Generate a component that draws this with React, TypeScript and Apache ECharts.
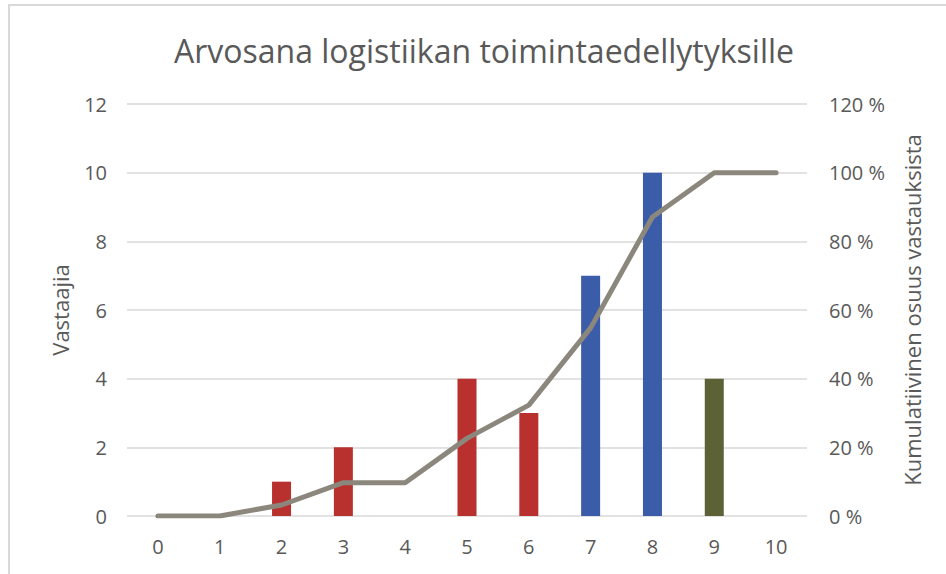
import React, { useEffect, useRef } from "react";
import * as echarts from "echarts";

const categories = ["0", "1", "2", "3", "4", "5", "6", "7", "8", "9", "10"];
const respondents = [0, 0, 1, 2, 0, 4, 3, 7, 10, 4, 0];
const cumulativePct = [0, 0, 3.2, 9.7, 9.7, 22.6, 32.3, 54.8, 87.1, 100, 100];
const titleText = "Arvosana logistiikan toimintaedellytyksille";
const leftAxisName = "Vastaajia";
const rightAxisName = "Kumulatiivinen osuus vastauksista";

const RED = "#b8312f";
const BLUE = "#3a5ca9";
const OLIVE = "#5c6236";
const barColor = (i: number) => (i >= 9 ? OLIVE : i >= 7 ? BLUE : RED);

const FONT = "'Open Sans', 'Noto Sans', sans-serif";
const TXT = "#595959";

export default function App() {
  const ref = useRef<HTMLDivElement>(null);
  useEffect(() => {
    if (!ref.current) return;
    const chart = echarts.init(ref.current, undefined, { renderer: "svg" });
    chart.setOption({
      animation: false,
      backgroundColor: "#ffffff",
      textStyle: { fontFamily: FONT },
      graphic: [
        { type: "line", shape: { x1: 9, y1: 4, x2: 9, y2: 574 }, style: { stroke: "#d9d9d9", lineWidth: 2 } },
        { type: "line", shape: { x1: 8, y1: 5, x2: 946, y2: 5 }, style: { stroke: "#d9d9d9", lineWidth: 2 } },
        {
          type: "text",
          x: 484,
          y: 50,
          style: {
            text: titleText,
            fontFamily: FONT,
            fontSize: 32,
            fill: TXT,
            textAlign: "center",
            textVerticalAlign: "middle",
          },
        },
      ],
      grid: { left: 127, right: 139, top: 104, bottom: 58 },
      xAxis: {
        type: "category",
        data: categories,
        boundaryGap: true,
        axisLine: { show: false },
        axisTick: { show: false },
        axisLabel: { color: TXT, fontSize: 20, margin: 20, fontFamily: FONT },
      },
      yAxis: [
        {
          type: "value",
          min: 0,
          max: 12,
          interval: 2,
          name: leftAxisName,
          nameLocation: "middle",
          nameRotate: 90,
          nameGap: 56,
          nameTextStyle: { color: TXT, fontSize: 22, fontFamily: FONT },
          axisLine: { show: false },
          axisTick: { show: false },
          axisLabel: { color: TXT, fontSize: 20, margin: 20, fontFamily: FONT },
          splitLine: { lineStyle: { color: "#d9d9d9", width: 1.5 } },
        },
        {
          type: "value",
          min: 0,
          max: 120,
          interval: 20,
          position: "right",
          name: rightAxisName,
          nameLocation: "middle",
          nameRotate: 90,
          nameGap: 94,
          nameTextStyle: { color: TXT, fontSize: 22, fontFamily: FONT },
          axisLine: { show: false },
          axisTick: { show: false },
          axisLabel: { color: TXT, fontSize: 20, margin: 22, fontFamily: FONT, formatter: "{value} %" },
          splitLine: { show: false },
        },
      ],
      series: [
        {
          type: "bar",
          yAxisIndex: 0,
          barWidth: 19,
          data: respondents.map((v, i) => ({ value: v, itemStyle: { color: barColor(i) } })),
        },
        {
          type: "line",
          yAxisIndex: 1,
          data: cumulativePct,
          symbol: "none",
          lineStyle: { color: "#8c877c", width: 5, cap: "round", join: "round" },
          z: 3,
        },
      ],
    });
    return () => chart.dispose();
  }, []);
  return (
    <div
      ref={ref}
      style={{ position: "fixed", left: 0, top: 0, width: 946, height: 574 }}
    />
  );
}
